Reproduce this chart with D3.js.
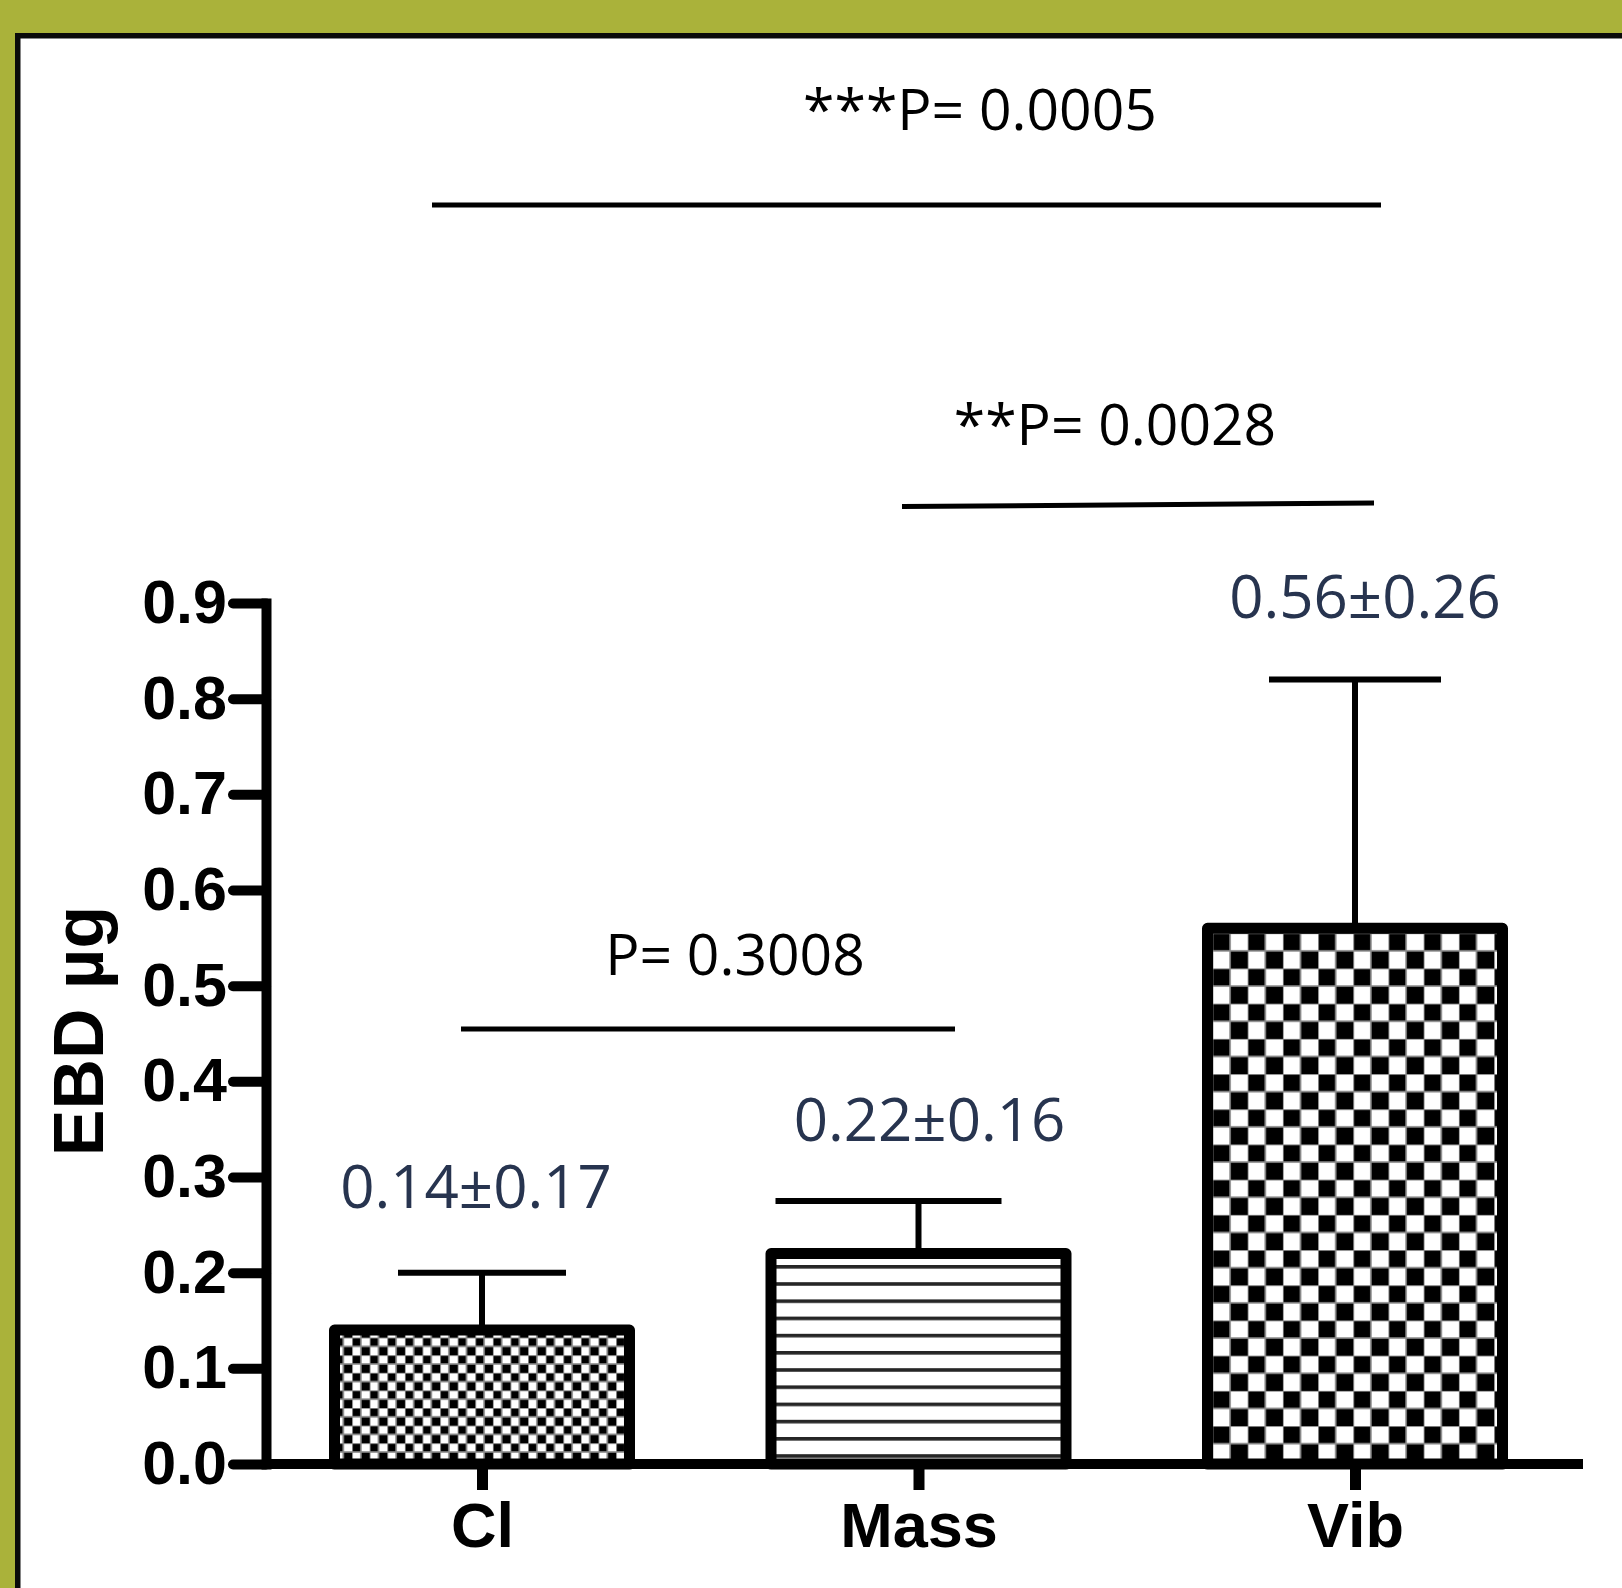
<!DOCTYPE html>
<html>
<head>
<meta charset="utf-8">
<script src="https://cdn.jsdelivr.net/npm/d3@7"></script>
<style>
  html, body { margin: 0; padding: 0; background: #fff; }
  svg { display: block; }
</style>
</head>
<body>
<svg id="chart" width="1622" height="1588"></svg>
<script>
// ---- data ----
const categories = ["Cl", "Mass", "Vib"];
const means = [0.14, 0.22, 0.56];
const errorTops = [0.20, 0.275, 0.82];
const valueLabels = ["0.14\u00B10.17", "0.22\u00B10.16", "0.56\u00B10.26"];
const yTicks = [0, 0.1, 0.2, 0.3, 0.4, 0.5, 0.6, 0.7, 0.8, 0.9];
const yTickLabels = ["0.0", "0.1", "0.2", "0.3", "0.4", "0.5", "0.6", "0.7", "0.8", "0.9"];
const compLabels = ["***P= 0.0005", "**P= 0.0028", "P= 0.3008"];
const yLabel = "EBD \u00B5g";

// ---- layout ----
const W = 1622, H = 1588;
const axisX = 266, axisY0 = 1464, axisYTop = 603, axisXEnd = 1583;
const barW = 295;
const svg = d3.select("#chart");

// frame
svg.append("rect").attr("x", 0).attr("y", 0).attr("width", W).attr("height", H).attr("fill", "#AAB23A");
svg.append("rect").attr("x", 15).attr("y", 33).attr("width", W).attr("height", H).attr("fill", "#0a0a0a");
svg.append("rect").attr("x", 20.5).attr("y", 38.5).attr("width", W).attr("height", H).attr("fill", "#ffffff");

const y = d3.scaleLinear().domain([0, 0.9]).range([axisY0, axisYTop]);
const x = d3.scalePoint().domain(categories).range([482, 1355]);

// patterns
const defs = svg.append("defs");
function checker(id, cell, x0, y0) {
  const p = defs.append("pattern").attr("id", id).attr("patternUnits", "userSpaceOnUse")
    .attr("width", cell * 2).attr("height", cell * 2).attr("x", x0).attr("y", y0);
  p.append("rect").attr("width", cell * 2).attr("height", cell * 2).attr("fill", "#fff");
  p.append("rect").attr("x", 0).attr("y", 0).attr("width", cell).attr("height", cell).attr("fill", "#000");
  p.append("rect").attr("x", cell).attr("y", cell).attr("width", cell).attr("height", cell).attr("fill", "#000");
  [0, cell].forEach(v => {
    p.append("rect").attr("x", v - 0.8).attr("y", 0).attr("width", 1.6).attr("height", cell * 2).attr("fill", "#8a8a8a");
    p.append("rect").attr("x", 0).attr("y", v - 0.8).attr("width", cell * 2).attr("height", 1.6).attr("fill", "#8a8a8a");
  });
}
checker("pat-Cl", 8.8, x("Cl") - barW / 2, 0);
checker("pat-Vib", 17.6, x("Vib") - barW / 2 + 5, y(means[2]) + 5);
(function () {
  const p = defs.append("pattern").attr("id", "pat-Mass").attr("patternUnits", "userSpaceOnUse")
    .attr("width", 20).attr("height", 17.2).attr("x", 0).attr("y", 1265);
  p.append("rect").attr("width", 20).attr("height", 17.2).attr("fill", "#fff");
  p.append("rect").attr("x", 0).attr("y", 0).attr("width", 20).attr("height", 3.6).attr("fill", "#262626");
})();

const data = categories.map((c, i) => ({ c, m: means[i], e: errorTops[i], lab: valueLabels[i] }));

// error bars
const capExt = { Cl: [84, 84], Mass: [143, 83], Vib: [86, 86] };
const eg = svg.append("g");
eg.selectAll("line.ev").data(data).join("line").attr("class", "ev")
  .attr("x1", d => x(d.c)).attr("x2", d => x(d.c))
  .attr("y1", d => y(d.m)).attr("y2", d => y(d.e))
  .attr("stroke", "#000").attr("stroke-width", 6);
eg.selectAll("line.ec").data(data).join("line").attr("class", "ec")
  .attr("x1", d => x(d.c) - capExt[d.c][0]).attr("x2", d => x(d.c) + capExt[d.c][1])
  .attr("y1", d => y(d.e)).attr("y2", d => y(d.e))
  .attr("stroke", "#000").attr("stroke-width", 6);

// bars
svg.append("g").selectAll("rect").data(data).join("rect")
  .attr("x", d => x(d.c) - barW / 2)
  .attr("y", d => y(d.m))
  .attr("width", barW)
  .attr("height", d => y(0) - y(d.m))
  .attr("fill", d => `url(#pat-${d.c})`)
  .attr("stroke", "#000").attr("stroke-width", 11).attr("stroke-linejoin", "round");

// value labels
const labOff = { Cl: [-6, -65], Mass: [11, -60], Vib: [10, -62] };
svg.append("g").selectAll("text").data(data).join("text")
  .attr("x", d => x(d.c) + labOff[d.c][0])
  .attr("y", d => y(d.e) + labOff[d.c][1])
  .attr("text-anchor", "middle")
  .attr("font-family", "'Open Sans', sans-serif")
  .attr("font-size", 60)
  .attr("fill", "#27344f")
  .text(d => d.lab);

// y axis
const yAxis = d3.axisLeft(y).tickValues(yTicks).tickFormat((d, i) => yTickLabels[i])
  .tickSize(33).tickSizeOuter(0).tickPadding(6);
const gy = svg.append("g").attr("transform", `translate(${axisX},0)`).call(yAxis);
gy.select(".domain").attr("stroke", "#000").attr("stroke-width", 10).attr("stroke-linecap", "square");
gy.selectAll(".tick line").attr("stroke", "#000").attr("stroke-width", 10).attr("stroke-linecap", "round");
gy.selectAll(".tick text").attr("font-family", "'Liberation Sans', Arial, sans-serif")
  .attr("font-weight", "bold").attr("font-size", 61).attr("fill", "#000");

// x axis
svg.append("line").attr("x1", axisX).attr("x2", axisXEnd).attr("y1", axisY0).attr("y2", axisY0)
  .attr("stroke", "#000").attr("stroke-width", 10).attr("stroke-linecap", "butt");
const xAxis = d3.axisBottom(x).tickSize(26).tickSizeOuter(0).tickPadding(12);
const gx = svg.append("g").attr("transform", `translate(0,${axisY0})`).call(xAxis);
gx.select(".domain").remove();
gx.selectAll(".tick line").attr("stroke", "#000").attr("stroke-width", 11);
gx.selectAll(".tick text").attr("font-family", "'Liberation Sans', Arial, sans-serif")
  .attr("font-weight", "bold").attr("font-size", 63).attr("fill", "#000");

// y label
svg.append("text").attr("transform", "translate(103,1031) rotate(-90)")
  .attr("text-anchor", "middle")
  .attr("font-family", "'Liberation Sans', Arial, sans-serif")
  .attr("font-weight", "bold").attr("font-size", 70).attr("fill", "#000")
  .text(yLabel);

// comparison brackets
const comps = [
  { lab: compLabels[0], x1: 432, x2: 1381, ly1: 205, ly2: 205, tx: 980, ty: 130 },
  { lab: compLabels[1], x1: 902, x2: 1374, ly1: 506.5, ly2: 503, tx: 1115, ty: 445 },
  { lab: compLabels[2], x1: 461, x2: 955, ly1: 1029, ly2: 1029, tx: 735, ty: 975 }
];
const cg = svg.append("g");
cg.selectAll("line").data(comps).join("line")
  .attr("x1", d => d.x1).attr("x2", d => d.x2).attr("y1", d => d.ly1).attr("y2", d => d.ly2)
  .attr("stroke", "#000").attr("stroke-width", 5);
cg.selectAll("text").data(comps).join("text")
  .attr("x", d => d.tx).attr("y", d => d.ty)
  .attr("text-anchor", "middle")
  .attr("font-family", "'Open Sans', sans-serif")
  .attr("font-size", 57).attr("fill", "#000")
  .text(d => d.lab);
</script>
</body>
</html>
